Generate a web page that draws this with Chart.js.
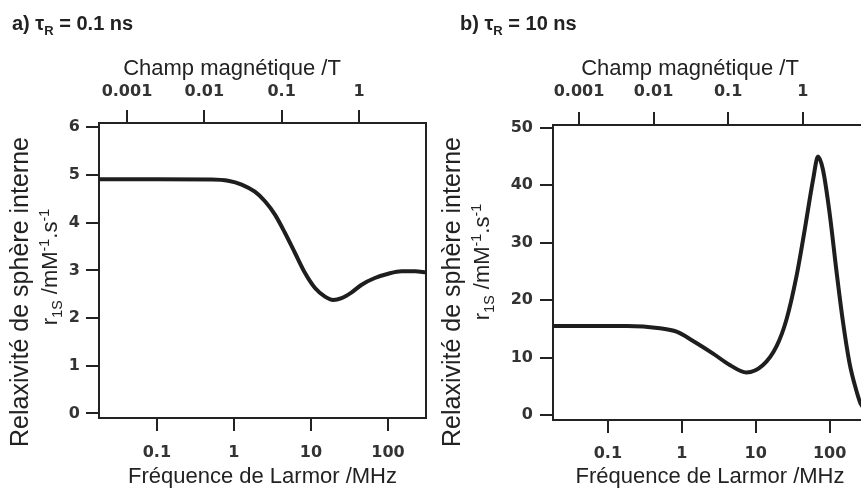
<!DOCTYPE html>
<html lang="fr">
<head>
<meta charset="utf-8">
<title>Relaxivité de sphère interne</title>
<script src="https://cdn.jsdelivr.net/npm/chart.js@4.4.1/dist/chart.umd.min.js"></script>
<style>
  html, body { margin: 0; padding: 0; background: #fff; overflow: hidden; }
  body { width: 861px; height: 488px; position: relative; font-family: 'Liberation Sans', Arial, sans-serif; color: #222; }
  canvas { position: absolute; top: 0; }
  #chartA { left: 0; }
  #chartB { left: 440px; }
  .titre { position: absolute; top: 10px; font-weight: bold; font-size: 20px; line-height: 26px; white-space: nowrap; }
  .xtitre { position: absolute; top: 53px; width: 400px; height: 30px; line-height: 30px; font-size: 22px; text-align: center; white-space: nowrap; }
  .ytitre { position: absolute; width: 400px; height: 30px; line-height: 30px; text-align: center; white-space: nowrap; transform: rotate(-90deg); }
  .ytitre sub, .ytitre sup, .titre sub { line-height: 0; font-size: 0.65em; }
</style>
</head>
<body>
<canvas id="chartA" width="430" height="500"></canvas>
<canvas id="chartB" width="440" height="500"></canvas>

<div class="titre" style="left:12px">a) τ<sub>R</sub> = 0.1 ns</div>
<div class="titre" style="left:460px">b) τ<sub>R</sub> = 10 ns</div>

<div class="xtitre" style="left:32px">Champ magnétique /T</div>
<div class="xtitre" style="left:490px">Champ magnétique /T</div>

<div class="ytitre" style="left:-181px; top:277px; font-size:25px">Relaxivité de sphère interne</div>
<div class="ytitre" style="left:-150px; top:252px; font-size:22px">r<sub>1S</sub> /mM<sup>-1</sup>.s<sup>-1</sup></div>
<div class="ytitre" style="left:251px; top:277px; font-size:25px">Relaxivité de sphère interne</div>
<div class="ytitre" style="left:282px; top:247px; font-size:22px">r<sub>1S</sub> /mM<sup>-1</sup>.s<sup>-1</sup></div>

<script>
// Axes en x : fréquence de Larmor (MHz) en bas, champ magnétique (T) en haut
const freqTicks = [0.1, 1, 10, 100];
const freqLabels = ['0.1', '1', '10', '100'];
const champTicks = [0.001, 0.01, 0.1, 1];
const champLabels = ['0.001', '0.01', '0.1', '1'];

// a) tauR = 0.1 ns
const freqA = [0.0177, 0.1, 0.513, 0.84, 1.26, 1.87, 2.53, 3.41, 4.59, 6.19, 8.35, 11.3, 15.2, 19.5, 25.0, 33.8, 45.6, 67.6, 101, 150, 225, 312];
const r1A   = [4.91, 4.91, 4.905, 4.88, 4.80, 4.65, 4.45, 4.17, 3.79, 3.37, 2.95, 2.63, 2.45, 2.38, 2.42, 2.54, 2.70, 2.84, 2.93, 2.98, 2.98, 2.96];
const r1TicksA = [0, 1, 2, 3, 4, 5, 6];

// b) tauR = 10 ns
const freqB = [0.0181, 0.179, 0.505, 0.848, 1.42, 2.65, 4.46, 7.48, 12.55, 19.0, 26.0, 35.5, 45.9, 59.5, 69.7, 81.2, 100, 123, 150, 186, 228, 262, 320];
const r1B   = [15.5, 15.5, 15.1, 14.5, 12.9, 10.7, 8.7, 7.4, 8.7, 11.9, 16.6, 24.1, 32.2, 40.9, 45.0, 42.7, 35.1, 25.3, 16.6, 9.0, 4.4, 2.0, 0.8];
const r1TicksB = [0, 10, 20, 30, 40, 50];

// bornes des axes
const freqRangeA = [0.0177, 312];
const champRangeA = [0.000435, 7.36];
const r1RangeA = [-0.095, 6.09];
const freqRangeB = [0.0181, 320];
const champRangeB = [0.000448, 7.28];
const r1RangeB = [-0.87, 50.5];

const policeTicks = { family: "'DejaVu Sans', sans-serif", size: 16, weight: 'bold' };
const policeTitre = { family: "'Liberation Sans', Arial, sans-serif", size: 22 };

// cadre complet autour de la zone de tracé
const cadrePlugin = {
    id: 'cadre',
    beforeDatasetsDraw(chart) {
        const { ctx, chartArea: a } = chart;
        ctx.save();
        ctx.strokeStyle = '#222';
        ctx.lineWidth = 2;
        ctx.strokeRect(a.left, a.top, a.right - a.left, a.bottom - a.top);
        ctx.restore();
    }
};

const fixerTicks = values => scale => {
    scale.ticks = values.map(v => ({ value: v }));
};

const grille = { display: true, drawOnChartArea: false, drawTicks: true, tickLength: 13, lineWidth: 2, color: '#222' };

function creerGraphique(canvasId, freq, r1, freqRange, champRange, r1Range, r1Ticks, geo) {
    const points = freq.map((f, i) => ({ x: f, y: r1[i] }));

    return new Chart(document.getElementById(canvasId), {
        type: 'line',
        data: {
            datasets: [{
                data: points,
                borderColor: '#1e1e1e',
                borderWidth: 4,
                borderJoinStyle: 'round',
                borderCapStyle: 'round',
                pointRadius: 0,
                fill: false,
                cubicInterpolationMode: 'monotone'
            }]
        },
        options: {
            responsive: false,
            devicePixelRatio: 1,
            animation: false,
            layout: { padding: { left: 0, top: 0, right: geo.padRight, bottom: 0 } },
            plugins: {
                legend: { display: false },
                tooltip: { enabled: false }
            },
            scales: {
                x: {
                    type: 'logarithmic',
                    position: 'bottom',
                    min: freqRange[0],
                    max: freqRange[1],
                    afterBuildTicks: fixerTicks(freqTicks),
                    afterFit: s => { s.height = geo.bottomHeight; },
                    grid: grille,
                    border: { display: false },
                    ticks: {
                        autoSkip: false, maxRotation: 0,
                        callback: (v, i) => freqLabels[i],
                        font: policeTicks, color: '#333', padding: geo.bottomTickPad
                    },
                    title: {
                        display: true, text: 'Fréquence de Larmor /MHz',
                        font: policeTitre, color: '#222',
                        padding: { top: 0, bottom: geo.titleBottomPad }
                    }
                },
                x2: {
                    // le titre de cet axe est un div (il est décalé vers la gauche)
                    type: 'logarithmic',
                    position: 'top',
                    min: champRange[0],
                    max: champRange[1],
                    afterBuildTicks: fixerTicks(champTicks),
                    afterFit: s => { s.height = geo.topHeight; },
                    grid: grille,
                    border: { display: false },
                    ticks: {
                        autoSkip: false, maxRotation: 0,
                        callback: (v, i) => champLabels[i],
                        font: policeTicks, color: '#333', padding: geo.topTickPad
                    }
                },
                y: {
                    type: 'linear',
                    min: r1Range[0],
                    max: r1Range[1],
                    afterBuildTicks: fixerTicks(r1Ticks),
                    afterFit: s => { s.width = geo.yWidth; },
                    grid: grille,
                    border: { display: false },
                    ticks: {
                        autoSkip: false,
                        callback: v => String(v),
                        font: policeTicks, color: '#333', padding: geo.yTickPad
                    }
                }
            }
        },
        plugins: [cadrePlugin]
    });
}

creerGraphique('chartA', freqA, r1A, freqRangeA, champRangeA, r1RangeA, r1TicksA, {
    yWidth: 99, topHeight: 123, bottomHeight: 82, padRight: 4,
    topTickPad: 8.4, bottomTickPad: 12.4, yTickPad: 6,
    titleBottomPad: 10.3
});

creerGraphique('chartB', freqB, r1B, freqRangeB, champRangeB, r1RangeB, r1TicksB, {
    yWidth: 113, topHeight: 125, bottomHeight: 80, padRight: 13,
    topTickPad: 10.9, bottomTickPad: 10.9, yTickPad: 7,
    titleBottomPad: 10.3
});
</script>
</body>
</html>
